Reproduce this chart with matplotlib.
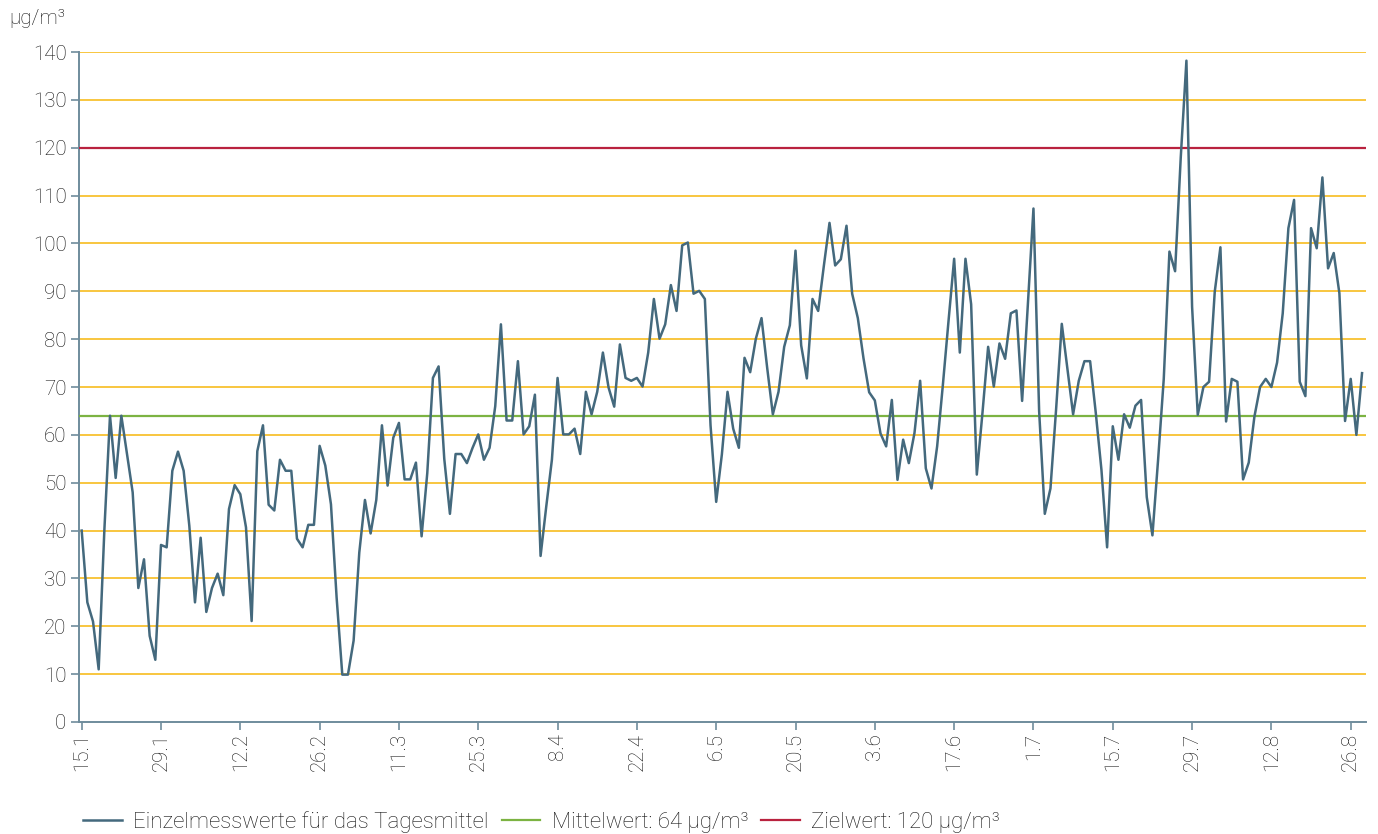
import matplotlib
matplotlib.use("Agg")
import matplotlib.pyplot as plt
import matplotlib.dates as mdates
import numpy as np
import pandas as pd

# ---- data ----
start_date = "2016-01-15"
values = [
    40, 25, 21, 11, 40, 64, 51, 64, 56, 48, 28, 34, 18, 13, 37, 36.5, 52.5, 56.5, 52.5, 41,
    25, 38.5, 23, 28, 31, 26.5, 44.5, 49.5, 47.6, 40.7, 21.1, 56.6, 62, 45.4, 44.2, 54.8, 52.5, 52.5, 38.3, 36.5,
    41.2, 41.2, 57.7, 53.6, 45.5, 26, 9.9, 9.9, 17, 35.4, 46.4, 39.4, 46.4, 62, 49.4, 59.4, 62.5, 50.7, 50.7, 54.2,
    38.8, 52, 71.9, 74.3, 55, 43.5, 56, 56, 54.1, 57.3, 60.1, 54.8, 57.3, 66, 83.1, 63, 63, 75.4, 60.1, 61.8,
    68.4, 34.7, 45, 54.8, 71.9, 60.1, 60.1, 61.3, 56, 69, 64.3, 69, 77.2, 69.9, 65.9, 78.9, 71.9, 71.3, 71.9, 70.1,
    77.2, 88.4, 80.1, 83.1, 91.3, 85.9, 99.6, 100.2, 89.5, 90.1, 88.4, 62, 46, 55.9, 69, 61.3, 57.3, 76.1, 73.1, 80.1,
    84.4, 74, 64.3, 69, 78.4, 82.9, 98.5, 78.7, 71.8, 88.4, 85.9, 95.3, 104.3, 95.4, 96.7, 103.7, 89.5, 84.4, 76, 68.9,
    67.2, 60.3, 57.6, 67.3, 50.6, 59, 54.1, 60.4, 71.3, 53, 48.8, 57.6, 70.3, 83.7, 96.8, 77.2, 96.8, 87.3, 51.7, 64.6,
    78.4, 70.1, 79.1, 75.9, 85.4, 86, 67.1, 87, 107.3, 65, 43.5, 48.8, 65.4, 83.2, 73.8, 64.3, 71.3, 75.4, 75.4, 64.6,
    52.7, 36.5, 61.8, 54.8, 64.3, 61.5, 66.1, 67.3, 47, 39, 54.8, 71.7, 98.3, 94.2, 118, 138.2, 86.8, 64.2, 70, 71.1,
    89.9, 99.2, 62.8, 71.7, 71.1, 50.7, 54.2, 63.8, 70, 71.7, 70, 75.1, 85.4, 103.2, 109.1, 71.1, 68.1, 103.2, 99, 113.8,
    94.8, 98, 89.6, 62.9, 71.7, 60, 72.9,
]
mean_value = 64
target_value = 120
y_ticks = list(range(0, 141, 10))
x_tick_labels = ["15.1", "29.1", "12.2", "26.2", "11.3", "25.3", "8.4", "22.4", "6.5",
                 "20.5", "3.6", "17.6", "1.7", "15.7", "29.7", "12.8", "26.8"]
legend_labels = ["Einzelmesswerte für das Tagesmittel",
                 "Mittelwert: 64 µg/m³", "Zielwert: 120 µg/m³"]
unit_label = "µg/m³"

# ---- style ----
plt.rcParams['font.family'] = ['Roboto', 'DejaVu Sans']
plt.rcParams['font.weight'] = 'light'
line_col = '#44697d'
grid_col = '#f6b60c'
mean_col = '#7cb342'
target_col = '#b9223f'
axis_col = '#6f8c9c'
text_col = '#151515'
fs = 14.8

dates = pd.date_range(start_date, periods=len(values), freq='D')
tick_dates = pd.date_range(start_date, periods=len(x_tick_labels), freq='14D')

fig = plt.figure(figsize=(13.78, 8.34), dpi=100)
ax = fig.add_axes([0.0573, 0.1343, 0.9340, 0.8033])

for yv in y_ticks[1:]:
    if yv == target_value:
        continue
    ax.axhline(yv, color=grid_col, lw=1.1, zorder=1)

l1, = ax.plot(dates, values, color=line_col, lw=1.8, zorder=4)
l2 = ax.axhline(mean_value, color=mean_col, lw=1.6, zorder=3)
l3 = ax.axhline(target_value, color=target_col, lw=1.6, zorder=3)

d0 = mdates.date2num(dates[0])
ax.set_xlim(d0 - 0.48, d0 + 226.7)
ax.set_ylim(0, 140)
ax.set_yticks(y_ticks)
ax.set_xticks(tick_dates)
ax.set_xticklabels(x_tick_labels, rotation=90)

for s in ['top', 'right']:
    ax.spines[s].set_visible(False)
for s in ['left', 'bottom']:
    ax.spines[s].set_color(axis_col)
    ax.spines[s].set_linewidth(1.4)
ax.tick_params(axis='both', colors=axis_col, labelcolor=text_col, labelsize=fs,
               length=6, width=1.2)
ax.tick_params(axis='y', pad=3)
ax.tick_params(axis='x', pad=2)

fig.text(0.007, 0.978, unit_label, ha='left', va='center', fontsize=fs, color=text_col)

fig.legend([l1, l2, l3], legend_labels, loc='center left', bbox_to_anchor=(0.060, 0.0145),
           ncol=3, frameon=False, fontsize=16, handlelength=1.75, handletextpad=0.5,
           columnspacing=0.6, labelcolor=text_col, borderaxespad=0, borderpad=0)

fig.savefig("out.png", dpi=100)
